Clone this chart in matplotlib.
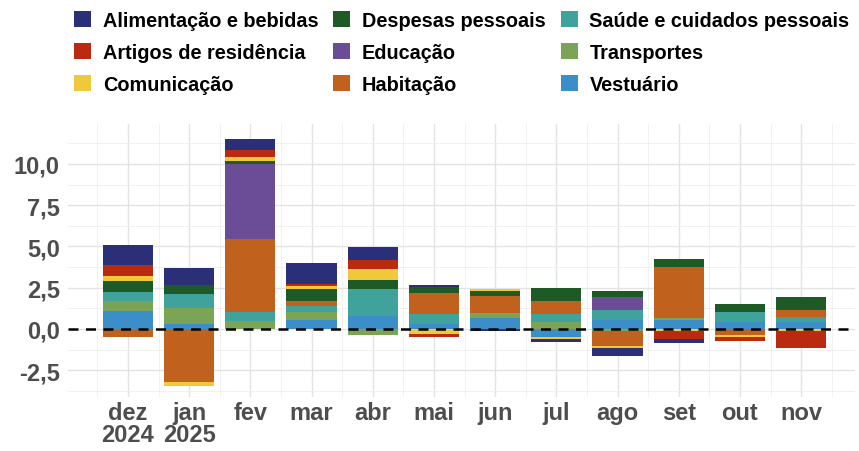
import matplotlib
matplotlib.use("Agg")
import matplotlib.pyplot as plt
from matplotlib.patches import Patch
import numpy as np

plt.rcParams['font.family'] = ['Liberation Sans', 'DejaVu Sans']

months = ["dez\n2024", "jan\n2025", "fev", "mar", "abr", "mai", "jun", "jul", "ago", "set", "out", "nov"]

categories = ["Alimentação e bebidas", "Artigos de residência", "Comunicação",
              "Despesas pessoais", "Educação", "Habitação",
              "Saúde e cuidados pessoais", "Transportes", "Vestuário"]

colors = ["#2b2f78", "#b92a10", "#efc93b", "#1e5a25", "#6a4c97",
          "#c0611d", "#3fa39c", "#7ca457", "#3b8ec8"]

alimentacao = [1.17, 1.0, 0.67, 1.3, 0.77, 0.15, -0.1, -0.2, -0.5, -0.25, 0.0, 0.0]
artigos = [0.7, 0.0, 0.45, 0.1, 0.55, -0.2, 0.0, 0.0, 0.0, -0.45, -0.25, -1.0]
comunicacao = [0.3, -0.24, 0.2, 0.2, 0.67, -0.3, 0.1, -0.1, -0.1, -0.15, -0.15, -0.15]
despesas = [0.67, 0.55, 0.2, 0.7, 0.55, 0.35, 0.33, 0.8, 0.4, 0.47, 0.5, 0.8]
educacao = [0.0, 0.0, 4.55, 0.0, 0.0, 0.0, 0.0, 0.0, 0.77, 0.0, 0.0, 0.0]
habitacao = [-0.5, -3.2, 4.45, 0.3, 0.0, 1.27, 1.05, 0.8, -0.9, 3.12, -0.35, 0.45]
saude = [0.55, 0.85, 0.5, 0.4, 1.6, 0.6, 0.0, 0.5, 0.6, 0.0, 0.55, 0.3]
transportes = [0.6, 0.95, 0.5, 0.45, -0.35, 0.0, 0.3, 0.4, -0.15, 0.1, 0.0, 0.0]
vestuario = [1.07, 0.32, 0.0, 0.55, 0.8, 0.3, 0.65, -0.5, 0.55, 0.55, 0.45, 0.4]

series = [alimentacao, artigos, comunicacao, despesas, educacao,
          habitacao, saude, transportes, vestuario]

fig = plt.figure(figsize=(8.59, 4.52), dpi=100)
ax = fig.add_axes([68 / 859, 1 - 398 / 452, (855 - 68) / 859, (398 - 125) / 452])

x = np.arange(len(months))
pos_base = np.zeros(len(months))
neg_base = np.zeros(len(months))
# stack from the last category nearest zero, like ggplot
for vals, col in reversed(list(zip(series, colors))):
    v = np.array(vals)
    pos = np.where(v > 0, v, 0)
    neg = np.where(v < 0, v, 0)
    ax.bar(x, pos, bottom=pos_base, width=0.82, color=col, zorder=2, linewidth=0)
    ax.bar(x, neg, bottom=neg_base, width=0.82, color=col, zorder=2, linewidth=0)
    pos_base += pos
    neg_base += neg

ax.axhline(0, color="black", linestyle=(0, (4, 3)), linewidth=1.8, zorder=3)

ax.set_xlim(-0.98, 11.88)
ax.set_ylim(-4.12, 12.42)
ax.set_xticks(x)
ax.set_xticklabels(months, linespacing=0.95)
yt = [-2.5, 0, 2.5, 5, 7.5, 10]
ax.set_yticks(yt)
ax.set_yticklabels([f"{t:.1f}".replace(".", ",") for t in yt])
ax.set_yticks(np.arange(-3.75, 12.5, 2.5), minor=True)
ax.set_xticks(np.arange(-0.5, 12, 1), minor=True)

ax.grid(True, which="major", color="#e3e3e3", linewidth=1.0, zorder=0)
ax.grid(True, which="minor", color="#efefef", linewidth=0.6, zorder=0)
for s in ax.spines.values():
    s.set_visible(False)
ax.tick_params(axis="both", which="both", length=0, labelsize=17, labelcolor="#4d4d4d")
for lab in ax.get_xticklabels() + ax.get_yticklabels():
    lab.set_fontweight("bold")
ax.tick_params(axis="x", pad=3)
ax.tick_params(axis="y", pad=6)

handles = [Patch(facecolor=c, edgecolor="none") for c in colors]
fig.legend(handles, categories, ncol=3, loc="upper left", bbox_to_anchor=(56 / 859, 1 + 6 / 452),
           frameon=False, prop={"size": 14.3, "weight": "bold"},
           handlelength=0.85, handleheight=0.85, handletextpad=0.6,
           columnspacing=0.75, labelspacing=0.66)

fig.savefig("out.png", dpi=100)
